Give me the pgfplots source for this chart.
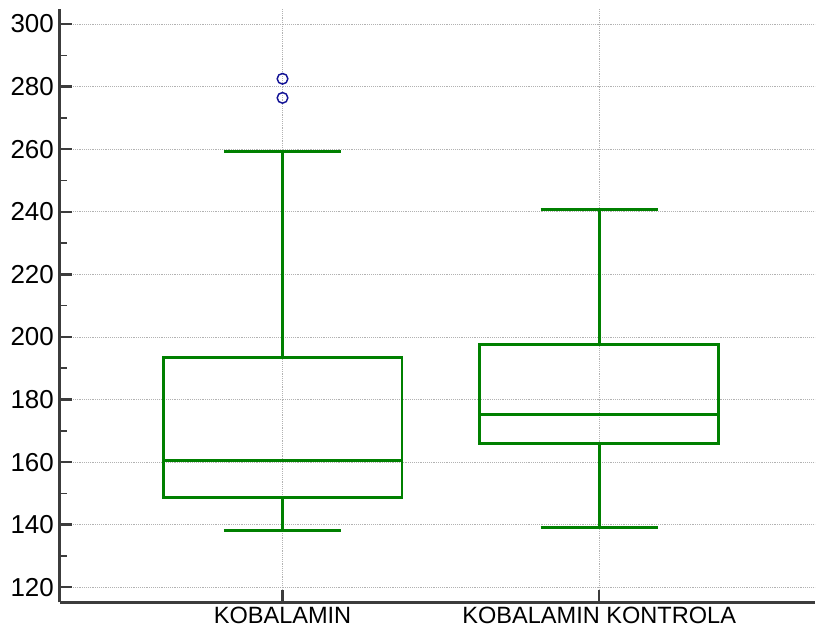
\documentclass[border=0pt]{standalone}
\usepackage{fontspec}
\setmainfont{Liberation Sans}
\usepackage{pgfplots}
\pgfplotsset{compat=1.18}
\usepgfplotslibrary{statistics}
\usetikzlibrary{calc}
\definecolor{kgreen}{RGB}{0,128,0}
\definecolor{kblue}{RGB}{20,20,150}
\definecolor{axgray}{RGB}{60,60,60}

\begin{document}
\begin{tikzpicture}
\begin{axis}[
  scale only axis, width=567pt, height=445.5pt,
  axis lines=left, axis line style={-, axgray, line width=2.2pt},
  xmin=-0.703, xmax=1.68, ymin=115.2, ymax=304.7,
  xtick={0,1}, xticklabels={KOBALAMIN, KOBALAMIN KONTROLA},
  ytick={120,140,...,300}, minor y tick num=1,
  tick align=inside,
  major tick length=9pt, minor tick length=5pt,
  tick style={axgray, line width=1.8pt},
  minor tick style={axgray, line width=1.2pt},
  xmajorgrids, ymajorgrids,
  major grid style={densely dotted, gray!60, line width=0.6pt},
  xticklabel style={font=\fontsize{17.7}{21}\selectfont},
  yticklabel style={font=\fontsize{19.5}{23}\selectfont, xshift=-1pt},
  /pgf/number format/assume math mode=true,
  clip=false,
  boxplot/draw direction=y,
]
\addplot[color=kgreen, line width=2.1pt, mark=o,
  mark options={draw=kblue, line width=1.1pt, mark size=4pt},
  boxplot prepared={draw position=0, lower whisker=138.2, lower quartile=148.7,
    median=160.5, upper quartile=193.4, upper whisker=259.2,
    box extend=0.754, whisker extend=0.37}]
  table[row sep=\\, y index=0, header=false] {282.5\\ 276.4\\};
\addplot[color=kgreen, line width=2.1pt,
  boxplot prepared={draw position=1, lower whisker=139.2, lower quartile=166.0,
    median=175.2, upper quartile=197.6, upper whisker=240.6,
    box extend=0.754, whisker extend=0.37}]
  coordinates {};
\end{axis}
\path ($(current axis.south west)+(-45pt,-27pt)$) rectangle ($(current axis.north east)+(0pt,7pt)$);
\end{tikzpicture}
\end{document}
